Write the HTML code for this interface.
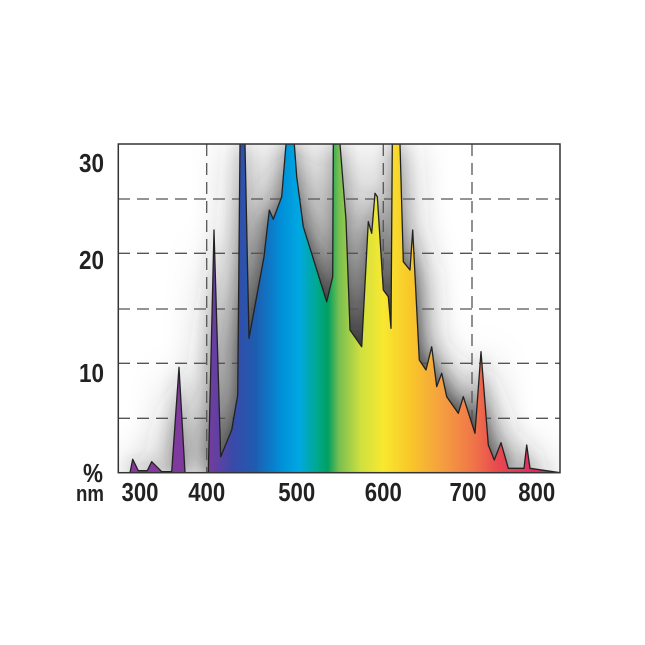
<!DOCTYPE html>
<html><head><meta charset="utf-8"><style>
html,body{margin:0;padding:0;background:#fff;}
svg{display:block;}
text{font-family:"Liberation Sans Narrow","Liberation Sans",sans-serif;font-weight:bold;fill:#222;}
</style></head><body>
<svg width="645" height="645" viewBox="0 0 645 645" xmlns="http://www.w3.org/2000/svg">
<defs>
<linearGradient id="spec" x1="118" y1="0" x2="560" y2="0" gradientUnits="userSpaceOnUse">
<stop offset="0" stop-color="#8a3a9c"/>
<stop offset="0.2" stop-color="#7a3a9e"/>
<stop offset="0.26" stop-color="#3a4aa8"/>
<stop offset="0.31" stop-color="#1e5cb0"/>
<stop offset="0.37" stop-color="#0090d8"/>
<stop offset="0.41" stop-color="#00a8e2"/>
<stop offset="0.45" stop-color="#00a890"/>
<stop offset="0.475" stop-color="#00a060"/>
<stop offset="0.50" stop-color="#78be50"/>
<stop offset="0.55" stop-color="#d0e040"/>
<stop offset="0.60" stop-color="#f8e830"/>
<stop offset="0.66" stop-color="#f8c828"/>
<stop offset="0.73" stop-color="#f5a040"/>
<stop offset="0.80" stop-color="#f07848"/>
<stop offset="0.86" stop-color="#e84850"/>
<stop offset="0.93" stop-color="#e03060"/>
<stop offset="1" stop-color="#d02870"/>
</linearGradient>
<filter id="blur" x="-30%" y="-30%" width="160%" height="160%"><feGaussianBlur stdDeviation="20"/></filter>
<filter id="blur2" x="-30%" y="-30%" width="160%" height="160%"><feGaussianBlur stdDeviation="8"/></filter>
<clipPath id="pc"><rect x="118.3" y="144" width="441.7" height="328.7"/></clipPath>
<polygon id="shape" points="118.3,472.7 130,472.7 132.7,459.3 138.3,470.7 147.3,470.7 151.7,461.7 161.7,471.7 171.7,471.7 179,367.3 185,472.7 206,472.7 208.3,472.7 214,230 220.7,456.7 231.7,430 237.7,395 240,144 245,144 249,338.3 264,256.7 269.3,210 273.3,219.3 281.7,196.7 286,144 294.3,144 296.7,176.7 303.3,226.7 326.7,301.7 332.7,276.7 333.3,144 340,144 346,220 350,330 361.7,346.7 368.3,221.7 371.7,233.3 375,193.3 377.3,196.7 383.3,290 388.3,296.7 391,328.3 392.3,144 400,144 403.3,261.7 410,270 412.7,230 419.3,360 426,370 431.7,346.7 436.7,386.7 441.7,373.3 446.7,396.7 458.3,413.3 463.3,396.7 475,433.3 481,351.7 488.3,445 494.3,460 501,442.7 508.3,468.3 524,468.3 526.7,445 530,468.3 560,472.7"/>
</defs>
<rect x="118.3" y="144" width="441.7" height="328.7" fill="#fff"/>
<g clip-path="url(#pc)">
<use href="#shape" filter="url(#blur)" fill="#333" opacity="1"/>
<use href="#shape" filter="url(#blur2)" fill="#333" opacity="0.55"/>
<g stroke="#555" stroke-width="1.3" stroke-dasharray="12 7" fill="none">
<line x1="118" y1="199" x2="560" y2="199"/>
<line x1="118" y1="253.3" x2="560" y2="253.3"/>
<line x1="118" y1="309" x2="560" y2="309"/>
<line x1="118" y1="363.3" x2="560" y2="363.3"/>
<line x1="118" y1="418.3" x2="560" y2="418.3"/>
<line x1="206.7" y1="144" x2="206.7" y2="472"/>
<line x1="383.3" y1="144" x2="383.3" y2="472"/>
<line x1="472" y1="144" x2="472" y2="472"/>
</g>
<use href="#shape" fill="url(#spec)" stroke="#222" stroke-width="1.3" stroke-linejoin="round"/>
</g>
<rect x="118.3" y="144" width="441.7" height="328.7" fill="none" stroke="#333" stroke-width="1.5"/>
<g font-size="26">
<text x="79" y="172" textLength="25" lengthAdjust="spacingAndGlyphs">30</text>
<text x="79" y="269" textLength="25" lengthAdjust="spacingAndGlyphs">20</text>
<text x="79" y="382" textLength="25" lengthAdjust="spacingAndGlyphs">10</text>
<text x="83" y="482" textLength="20" lengthAdjust="spacingAndGlyphs">%</text>
<text x="76" y="501" font-size="22" textLength="28" lengthAdjust="spacingAndGlyphs">nm</text>
<text x="121.5" y="501" textLength="37" lengthAdjust="spacingAndGlyphs">300</text>
<text x="188.2" y="501" textLength="37" lengthAdjust="spacingAndGlyphs">400</text>
<text x="278.2" y="501" textLength="37" lengthAdjust="spacingAndGlyphs">500</text>
<text x="364.8" y="501" textLength="37" lengthAdjust="spacingAndGlyphs">600</text>
<text x="449.5" y="501" textLength="37" lengthAdjust="spacingAndGlyphs">700</text>
<text x="518.2" y="501" textLength="37" lengthAdjust="spacingAndGlyphs">800</text>
</g>
</svg>
</body></html>
